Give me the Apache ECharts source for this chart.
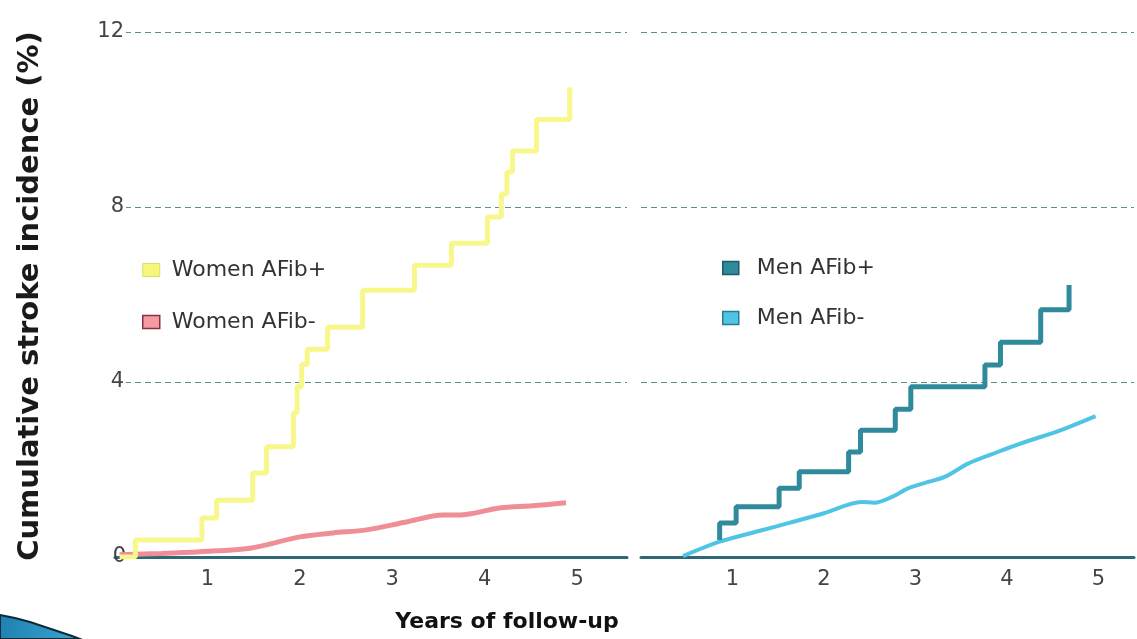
<!DOCTYPE html>
<html>
<head>
<meta charset="utf-8">
<script src="https://cdn.jsdelivr.net/npm/echarts@6/dist/echarts.min.js"></script>
<style>
html,body{margin:0;padding:0;background:#fff;}
#chart{width:1137px;height:639px;}
</style>
</head>
<body>
<div id="chart"></div>
<script>
// ---- data (x = years of follow-up, y = cumulative stroke incidence %) ----
const xTicks = [1, 2, 3, 4, 5];
const yTicks = [0, 4, 8, 12];
const seriesNames = ['Women AFib+', 'Women AFib-', 'Men AFib+', 'Men AFib-'];

const womenAfibPos = [
  [0.05, 0.0], [0.22, 0.39], [0.94, 0.89], [1.10, 1.30], [1.49, 1.92], [1.64, 2.52],
  [1.93, 3.3], [1.97, 3.9], [2.02, 4.4], [2.08, 4.75], [2.30, 5.25], [2.68, 6.10],
  [3.24, 6.67], [3.64, 7.17], [4.03, 7.77], [4.18, 8.3], [4.24, 8.8], [4.30, 9.28],
  [4.56, 10.0], [4.92, 10.74]
];
const womenAfibNeg = [
  [0.05, 0.05], [0.50, 0.08], [0.92, 0.12], [1.46, 0.20], [2.0, 0.46], [2.36, 0.55],
  [2.72, 0.62], [3.15, 0.80], [3.55, 0.96], [3.73, 0.96], [4.16, 1.12], [4.52, 1.17],
  [4.88, 1.24]
];
const menAfibPos = [
  [0.86, 0.39], [0.86, 0.78], [1.04, 1.15], [1.51, 1.57], [1.73, 1.95], [2.27, 2.40],
  [2.40, 2.90], [2.78, 3.38], [2.95, 3.89], [3.76, 4.39], [3.93, 4.91], [4.37, 5.65],
  [4.68, 6.22]
];
const menAfibNeg = [
  [0.46, 0.02], [0.86, 0.35], [1.30, 0.60], [1.62, 0.78], [2.0, 1.0], [2.41, 1.26],
  [2.55, 1.24], [2.75, 1.38], [2.92, 1.57], [3.10, 1.69], [3.32, 1.83], [3.58, 2.14],
  [3.90, 2.40], [4.16, 2.60], [4.59, 2.90], [4.97, 3.22]
];

const colors = {
  womenPos: '#f7f78c', womenNeg: '#ef8e97', menPos: '#2f8a9c', menNeg: '#50c4e4'
};

const FONT = '"DejaVu Sans", Verdana, sans-serif';
const chart = echarts.init(document.getElementById('chart'), null, {renderer: 'canvas'});

function xAxisFor(gridIndex, maxVal) {
  return {
    type: 'value', gridIndex: gridIndex, min: 0, max: maxVal, interval: 1,
    axisLine: {show: true, onZero: false, lineStyle: {color: '#2c6877', width: 3}},
    axisTick: {show: false},
    splitLine: {show: false},
    axisLabel: {
      color: '#444', fontSize: 21, fontFamily: FONT, margin: 12,
      formatter: function (v) { return xTicks.indexOf(v) >= 0 ? String(v) : ''; }
    }
  };
}
function yAxisFor(gridIndex, showLabels) {
  return {
    type: 'value', gridIndex: gridIndex, min: 0, max: 12, interval: 4,
    axisLine: {show: false}, axisTick: {show: false},
    splitLine: {show: true, lineStyle: {color: '#5e8d92', width: 1, type: [6, 4]}},
    axisLabel: {
      show: showLabels, color: '#444', fontSize: 21, fontFamily: FONT, margin: -11,
      formatter: function (v) { return yTicks.indexOf(v) >= 0 ? (v === 0 ? '{z|' + v + '}' : '{n|' + v + '}') : ''; },
      rich: {
        n: {color: '#444', fontSize: 21, fontFamily: FONT, backgroundColor: '#fff', padding: [0, 2, 0, 0]},
        z: {color: '#444', fontSize: 21, fontFamily: FONT}
      }
    }
  };
}

const option = {
  animation: false,
  backgroundColor: '#fff',
  grid: [
    {left: 115, top: 32, width: 512, height: 525},
    {left: 641, top: 32, width: 496, height: 525}
  ],
  xAxis: [xAxisFor(0, 5.54), xAxisFor(1, 5.39)],
  yAxis: [yAxisFor(0, true), yAxisFor(1, false)],
  legend: [
    {
      left: 142, top: 259, padding: 0, orient: 'vertical', itemGap: 30, itemWidth: 17, itemHeight: 13,
      icon: 'rect', textStyle: {color: '#333', fontSize: 22, fontFamily: FONT, padding: [0, 0, 0, 7]},
      selectedMode: false,
      data: [
        {name: 'Women AFib+', itemStyle: {color: '#f6f67c', borderColor: '#dede6a', borderWidth: 1}},
        {name: 'Women AFib-', itemStyle: {color: '#f59aa0', borderColor: '#8a3040', borderWidth: 1.5}}
      ]
    },
    {
      left: 722, top: 257, padding: 0, orient: 'vertical', itemGap: 28, itemWidth: 16, itemHeight: 13,
      icon: 'rect', textStyle: {color: '#333', fontSize: 22, fontFamily: FONT, padding: [0, 0, 0, 13]},
      selectedMode: false,
      data: [
        {name: 'Men AFib+', itemStyle: {color: '#2f8a9c', borderColor: '#1d5a68', borderWidth: 1.5}},
        {name: 'Men AFib-', itemStyle: {color: '#50c4e4', borderColor: '#2a7a96', borderWidth: 1.5}}
      ]
    }
  ],
  series: [
    {name: seriesNames[1], type: 'line', xAxisIndex: 0, yAxisIndex: 0, data: womenAfibNeg, smooth: 0.3,
      showSymbol: false, lineStyle: {color: colors.womenNeg, width: 5}, itemStyle: {color: colors.womenNeg}, z: 3},
    {name: seriesNames[0], type: 'line', xAxisIndex: 0, yAxisIndex: 0, data: womenAfibPos, step: 'end',
      showSymbol: false, lineStyle: {color: colors.womenPos, width: 5}, itemStyle: {color: colors.womenPos}, z: 4},
    {name: seriesNames[3], type: 'line', xAxisIndex: 1, yAxisIndex: 1, data: menAfibNeg, smooth: 0.3,
      showSymbol: false, lineStyle: {color: colors.menNeg, width: 4}, itemStyle: {color: colors.menNeg}, z: 3},
    {name: seriesNames[2], type: 'line', xAxisIndex: 1, yAxisIndex: 1, data: menAfibPos, step: 'end',
      showSymbol: false, lineStyle: {color: colors.menPos, width: 5}, itemStyle: {color: colors.menPos}, z: 4}
  ],
  graphic: [
    {
      type: 'text', x: 30, y: 296, rotation: Math.PI / 2,
      style: {text: 'Cumulative stroke incidence (%)', font: 'bold 29px ' + FONT, fill: '#1a1a1a',
        align: 'center', verticalAlign: 'middle'}
    },
    {
      type: 'text', x: 507, y: 622,
      style: {text: 'Years of follow-up', font: 'bold 22px ' + FONT, fill: '#111',
        align: 'center', verticalAlign: 'middle'}
    },
    {
      type: 'polygon', z: 10,
      shape: {points: [[0, 615], [15, 618], [30, 622], [45, 627], [60, 632], [72, 636], [80, 639], [0, 639]]},
      style: {
        fill: new echarts.graphic.LinearGradient(0, 0, 1, 1, [
          {offset: 0, color: '#1f7fb0'}, {offset: 1, color: '#3aa6d2'}
        ]),
        stroke: '#0d2a3a', lineWidth: 2
      }
    }
  ]
};
chart.setOption(option);
</script>
</body>
</html>
